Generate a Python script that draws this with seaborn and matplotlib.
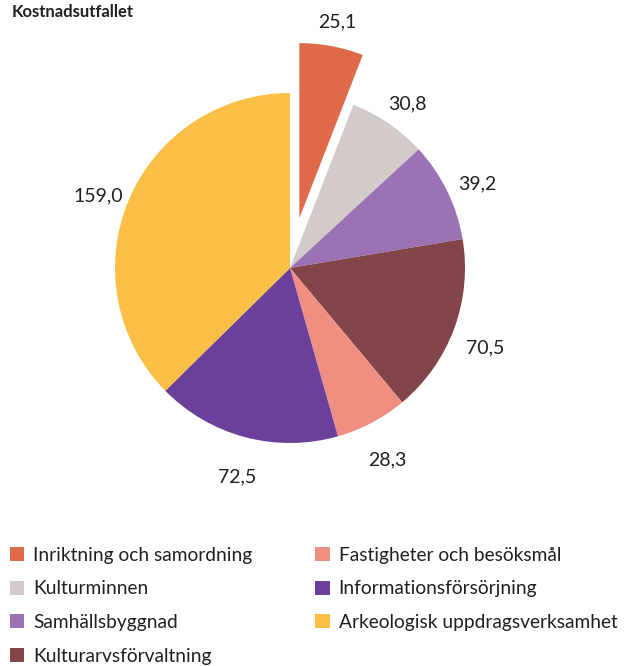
import matplotlib
matplotlib.use('Agg')
import matplotlib.pyplot as plt
import matplotlib.patches as mpatches
import matplotlib.transforms as mtransforms
import seaborn as sns

# --- Data ---
kategorier = ['Inriktning och samordning', 'Kulturminnen', 'Samhällsbyggnad',
              'Kulturarvsförvaltning', 'Fastigheter och besöksmål',
              'Informationsförsörjning', 'Arkeologisk uppdragsverksamhet']
varden = [25.1, 30.8, 39.2, 70.5, 28.3, 72.5, 159.0]
etiketter = ['25,1', '30,8', '39,2', '70,5', '28,3', '72,5', '159,0']
farger = ['#E0694A', '#D3CBC7', '#9B73B4', '#82454A', '#F08F81', '#6B409B', '#FBBF47']
explode = [0.29, 0, 0, 0, 0, 0, 0]

sns.set_style('white')
plt.rcParams['font.family'] = ['Lato', 'DejaVu Sans']
textfarg = '#231F20'

fig = plt.figure(figsize=(6.25, 6.66), dpi=100)
W, H = 625, 666
r_px = 175
cx, cy = 290, 268
side = 3 * r_px
ax = fig.add_axes([(cx - side / 2) / W, (H - cy - side / 2) / H, side / W, side / H])

wedges, texts = ax.pie(varden, labels=etiketter, colors=sns.color_palette(farger),
                       startangle=90, counterclock=False, explode=explode,
                       labeldistance=1.19, wedgeprops={'linewidth': 0},
                       textprops={'fontsize': 14, 'color': textfarg})
for t in texts:
    t.set_ha('center')
    t.set_va('center')
    # lite nedflyttade som i originalet
    t.set_transform(mtransforms.offset_copy(t.get_transform(), fig=fig, x=0, y=-8, units='dots'))
ax.set_xlim(-1.5, 1.5)
ax.set_ylim(-1.5, 1.5)
ax.set_aspect('equal')
ax.axis('off')

# Titel
fig.text(12 / W, 1 - 4 / H, 'Kostnadsutfallet', fontsize=12, fontweight='bold',
         color=textfarg, va='top', ha='left')

# --- Legend ---
handles = [mpatches.Patch(facecolor=c, edgecolor='none', label=k)
           for k, c in zip(kategorier, farger)]
fig.legend(handles=handles, ncol=2, loc='upper left',
           bbox_to_anchor=(2 / W, 1 - 539 / H), frameon=False,
           fontsize=13.8, handlelength=0.75, handleheight=0.75, handletextpad=0.46,
           labelspacing=0.87, columnspacing=3.3, borderaxespad=0,
           labelcolor=textfarg)

plt.savefig('out.png', dpi=100)
plt.close()
